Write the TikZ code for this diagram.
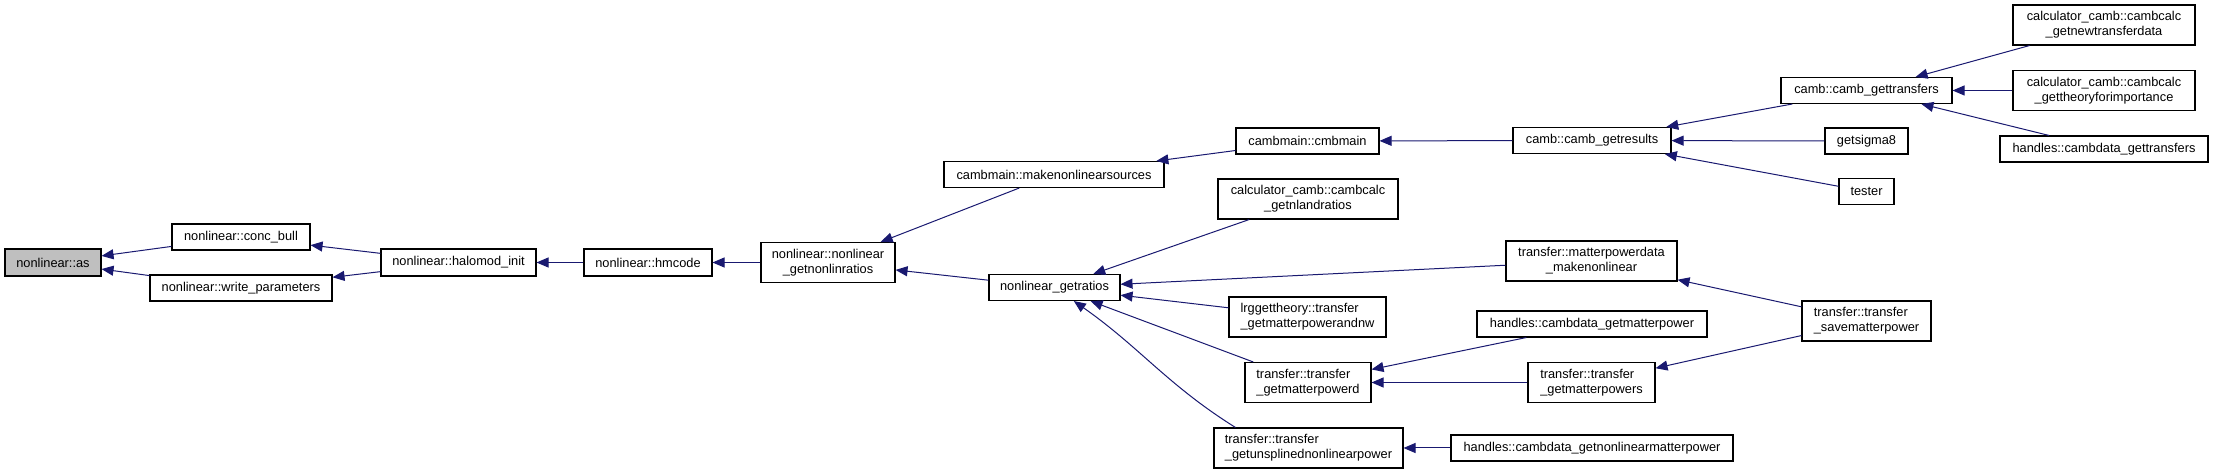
\documentclass[tikz,border=0pt]{standalone}
\usepackage{fontspec}
\setmainfont{Liberation Sans}
\usepackage{tikz}
\usetikzlibrary{arrows.meta}
\definecolor{edgeblue}{HTML}{191970}
\def\thickness{0.8pt}
\newcommand{\fnfont}{\fontsize{9.6}{11.25}\selectfont}
\tikzstyle{fnbox}=[rectangle, draw=black, fill=white, inner sep=0pt, line width=\thickness, align=center, font=\fnfont]
\tikzstyle{rootbox}=[fnbox, fill=black!25]
\tikzstyle{call}=[draw=edgeblue, line width=0.75pt, -{Triangle[length=9pt,width=7.5pt]}]
\tikzset{boxsize/.style 2 args={minimum width=#1*0.75pt, minimum height=#2*0.75pt}}

\begin{document}
\begin{tikzpicture}[x=0.75pt, y=-0.75pt]
\useasboundingbox (0,0) rectangle (2213,473);
\node [rootbox, boxsize={96}{27}] (as) at (53,262.5) {nonlinear::as};
\node [fnbox, boxsize={138}{26}] (concbull) at (241,237) {nonlinear::conc\_bull};
\node [fnbox, boxsize={182}{26}] (writepar) at (241,288) {nonlinear::write\_parameters};
\node [fnbox, boxsize={155}{27}] (halomod) at (458.5,262.5) {nonlinear::halomod\_init};
\node [fnbox, boxsize={128}{27}] (hmcode) at (648,262.5) {nonlinear::hmcode};
\node [fnbox, boxsize={134}{40}] (getnonlin) at (828,262.5) {nonlinear::nonlinear\\\_getnonlinratios};
\node [fnbox, boxsize={220}{26}] (makesrc) at (1054,174.5) {cambmain::makenonlinearsources};
\node [fnbox, boxsize={143}{26}] (cmbmain) at (1307.5,141) {cambmain::cmbmain};
\node [fnbox, boxsize={158}{26}] (getresults) at (1592,140.5) {camb::camb\_getresults};
\node [fnbox, boxsize={171}{26}] (gettransfers) at (1866.5,90.5) {camb::camb\_gettransfers};
\node [fnbox, boxsize={83}{26}] (sigma) at (1866.5,141) {getsigma8};
\node [fnbox, boxsize={55}{26}] (tester) at (1866.5,191.5) {tester};
\node [fnbox, boxsize={182}{40}] (newtransfer) at (2104,25) {calculator\_camb::cambcalc\\\_getnewtransferdata};
\node [fnbox, boxsize={182}{40}] (theoryimp) at (2104,90.5) {calculator\_camb::cambcalc\\\_gettheoryforimportance};
\node [fnbox, boxsize={208}{26}] (cdtransfers) at (2104,149) {handles::cambdata\_gettransfers};
\node [fnbox, boxsize={131}{26}] (getratios) at (1054.5,287.5) {nonlinear\_getratios};
\node [fnbox, boxsize={180}{40}] (nlandratios) at (1308,199) {calculator\_camb::cambcalc\\\_getnlandratios};
\node [fnbox, boxsize={171}{40}] (mpdata) at (1591.5,261) {transfer::matterpowerdata\\\_makenonlinear};
\node [fnbox, align=left, boxsize={157}{40}] (lrg) at (1307.5,317) {lrggettheory::transfer\\\_getmatterpowerandnw};
\node [fnbox, boxsize={230}{26}] (cdmatter) at (1592,324) {handles::cambdata\_getmatterpower};
\node [fnbox, align=left, boxsize={126}{40}] (getmpd) at (1308,382.5) {transfer::transfer\\\_getmatterpowerd};
\node [fnbox, align=left, boxsize={127}{40}] (getmps) at (1591.5,382.5) {transfer::transfer\\\_getmatterpowers};
\node [fnbox, align=left, boxsize={189}{40}] (unspl) at (1308.5,448) {transfer::transfer\\\_getunsplinednonlinearpower};
\node [fnbox, boxsize={282}{26}] (cdnonlin) at (1592,448) {handles::cambdata\_getnonlinearmatterpower};
\node [fnbox, align=left, boxsize={129}{40}] (savemp) at (1866.5,321) {transfer::transfer\\\_savematterpower};
\draw [call] (concbull) -- (as);
\draw [call] (writepar) -- (as);
\draw [call] (halomod) -- (concbull);
\draw [call] (halomod) -- (writepar);
\draw [call] (hmcode) -- (halomod);
\draw [call] (getnonlin) -- (hmcode);
\draw [call] (makesrc) -- (getnonlin);
\draw [call] (getratios) -- (getnonlin);
\draw [call] (cmbmain) -- (makesrc);
\draw [call] (getresults) -- (cmbmain);
\draw [call] (gettransfers) -- (getresults);
\draw [call] (sigma) -- (getresults);
\draw [call] (tester) -- (getresults);
\draw [call] (newtransfer) -- (gettransfers);
\draw [call] (theoryimp) -- (gettransfers);
\draw [call] (cdtransfers) -- (gettransfers);
\draw [call] (nlandratios) -- (getratios);
\draw [call] (mpdata) -- (getratios);
\draw [call] (lrg) -- (getratios);
\draw [call] (getmpd) -- (getratios);
\draw [call] ([xshift=16.5pt]unspl.north west) to [out=148, in=-35] (getratios);
\draw [call] (cdmatter) -- (getmpd);
\draw [call] (getmps) -- (getmpd);
\draw [call] (savemp) -- (mpdata);
\draw [call] (savemp) -- (getmps);
\draw [call] (cdnonlin) -- (unspl);
\end{tikzpicture}
\end{document}
